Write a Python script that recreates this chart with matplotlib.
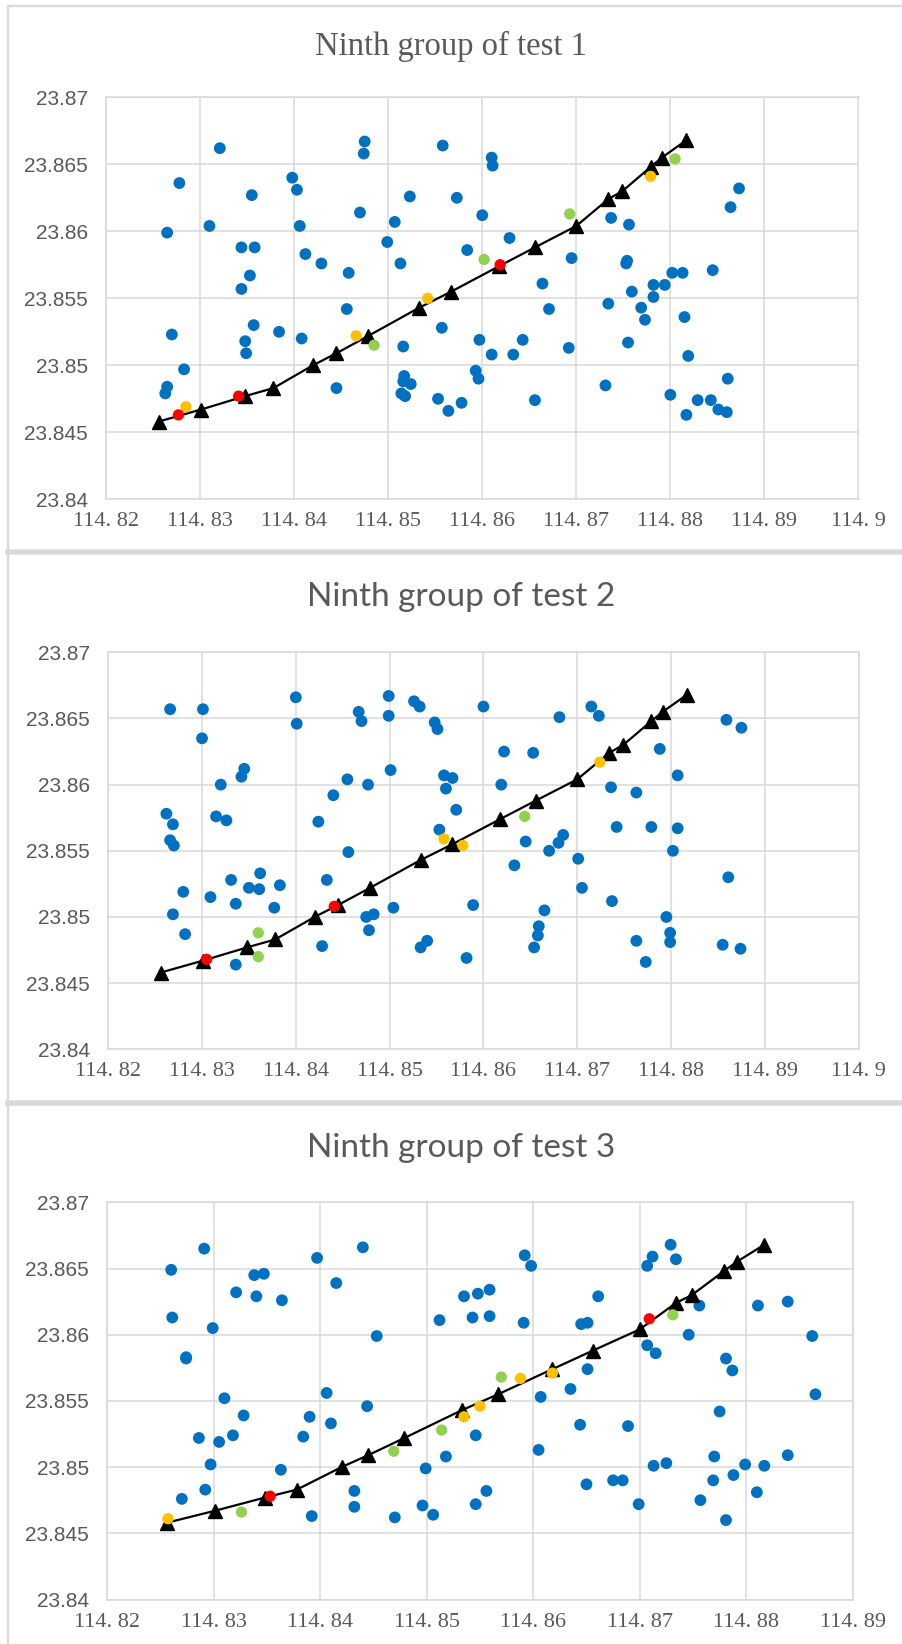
import matplotlib
matplotlib.use("Agg")
import matplotlib.pyplot as plt
from matplotlib.lines import Line2D

# ---------------- data ----------------
path_x = [114.8256, 114.8301, 114.8348, 114.8378, 114.8420, 114.8445, 114.8479, 114.8533, 114.8567,
          114.8618, 114.8656, 114.8700, 114.8734, 114.8749, 114.8779, 114.8791, 114.8817]
path_y = [23.8458, 23.8467, 23.8477, 23.8483, 23.8500, 23.8509, 23.8522, 23.8543, 23.8555,
          23.8574, 23.8588, 23.8604, 23.8624, 23.8630, 23.8648, 23.8655, 23.8668]

# test 1
blue_x1 = [114.8321, 114.8475, 114.8474, 114.8558, 114.8610, 114.8611, 114.8278, 114.8355, 114.8398, 114.8403,
           114.8470, 114.8523, 114.8573, 114.8600, 114.8265, 114.8310, 114.8406, 114.8507, 114.8629, 114.8499,
           114.8584, 114.8344, 114.8358, 114.8412, 114.8429, 114.8458, 114.8513, 114.8353, 114.8344, 114.8456,
           114.8557, 114.8357, 114.8270, 114.8348, 114.8349, 114.8384, 114.8408, 114.8516, 114.8597, 114.8610,
           114.8633, 114.8283, 114.8265, 114.8263, 114.8445, 114.8517, 114.8516, 114.8524, 114.8514, 114.8518,
           114.8593, 114.8596, 114.8553, 114.8564, 114.8578, 114.8873, 114.8864, 114.8737, 114.8756, 114.8695,
           114.8754, 114.8753, 114.8664, 114.8802, 114.8813, 114.8845, 114.8782, 114.8794, 114.8759, 114.8782,
           114.8671, 114.8734, 114.8769, 114.8773, 114.8815, 114.8643, 114.8692, 114.8755, 114.8819, 114.8861,
           114.8731, 114.8656, 114.8800, 114.8829, 114.8843, 114.8817, 114.8851, 114.8860]
blue_y1 = [23.8662, 23.8667, 23.8658, 23.8664, 23.8655, 23.8649, 23.8636, 23.8627, 23.8640, 23.8631,
           23.8614, 23.8626, 23.8625, 23.8612, 23.8599, 23.8604, 23.8604, 23.8607, 23.8595, 23.8592,
           23.8586, 23.8588, 23.8588, 23.8583, 23.8576, 23.8569, 23.8576, 23.8567, 23.8557, 23.8542,
           23.8528, 23.8530, 23.8523, 23.8518, 23.8509, 23.8525, 23.8520, 23.8514, 23.8519, 23.8508,
           23.8508, 23.8497, 23.8484, 23.8479, 23.8483, 23.8492, 23.8488, 23.8486, 23.8479, 23.8477,
           23.8496, 23.8490, 23.8475, 23.8466, 23.8472, 23.8632, 23.8618, 23.8610, 23.8605, 23.8580,
           23.8578, 23.8576, 23.8561, 23.8569, 23.8569, 23.8571, 23.8560, 23.8560, 23.8555, 23.8551,
           23.8542, 23.8546, 23.8543, 23.8534, 23.8536, 23.8519, 23.8513, 23.8517, 23.8507, 23.8490,
           23.8485, 23.8474, 23.8478, 23.8474, 23.8474, 23.8463, 23.8467, 23.8465]
orange_x1 = [114.8285, 114.8466, 114.8542, 114.8779]
orange_y1 = [23.8469, 23.8522, 23.8550, 23.8641]
green_x1 = [114.8485, 114.8602, 114.8693, 114.8805]
green_y1 = [23.8515, 23.8579, 23.8613, 23.8654]
red_x1 = [114.8277, 114.8341, 114.8619]
red_y1 = [23.8463, 23.8477, 23.8575]

# test 2
blue_x2 = [114.8266, 114.8301, 114.8300, 114.8400, 114.8401, 114.8467, 114.8470, 114.8499, 114.8499, 114.8526,
           114.8532, 114.8548, 114.8551, 114.8600, 114.8622, 114.8345, 114.8342, 114.8320, 114.8455, 114.8477,
           114.8501, 114.8440, 114.8558, 114.8567, 114.8560, 114.8619, 114.8571, 114.8262, 114.8269, 114.8315,
           114.8326, 114.8424, 114.8553, 114.8266, 114.8270, 114.8456, 114.8633, 114.8433, 114.8331, 114.8280,
           114.8309, 114.8336, 114.8350, 114.8361, 114.8362, 114.8383, 114.8377, 114.8269, 114.8282, 114.8336,
           114.8504, 114.8589, 114.8475, 114.8483, 114.8478, 114.8428, 114.8533, 114.8540, 114.8582, 114.8681,
           114.8715, 114.8723, 114.8653, 114.8788, 114.8807, 114.8859, 114.8875, 114.8736, 114.8763, 114.8742,
           114.8779, 114.8807, 114.8645, 114.8685, 114.8680, 114.8670, 114.8701, 114.8802, 114.8861, 114.8705,
           114.8737, 114.8665, 114.8659, 114.8658, 114.8654, 114.8795, 114.8799, 114.8799, 114.8763, 114.8773,
           114.8855, 114.8874]
blue_y2 = [23.8657, 23.8657, 23.8635, 23.8666, 23.8646, 23.8655, 23.8648, 23.8667, 23.8652, 23.8663,
           23.8659, 23.8647, 23.8642, 23.8659, 23.8625, 23.8612, 23.8606, 23.8600, 23.8604, 23.8600,
           23.8611, 23.8592, 23.8607, 23.8605, 23.8597, 23.8600, 23.8581, 23.8578, 23.8570, 23.8576,
           23.8573, 23.8572, 23.8566, 23.8558, 23.8554, 23.8549, 23.8539, 23.8528, 23.8528, 23.8519,
           23.8515, 23.8510, 23.8522, 23.8521, 23.8533, 23.8524, 23.8507, 23.8502, 23.8487, 23.8464,
           23.8507, 23.8509, 23.8500, 23.8502, 23.8490, 23.8478, 23.8477, 23.8482, 23.8469, 23.8651,
           23.8659, 23.8652, 23.8624, 23.8627, 23.8607, 23.8649, 23.8643, 23.8598, 23.8594, 23.8568,
           23.8568, 23.8567, 23.8557, 23.8562, 23.8556, 23.8550, 23.8544, 23.8550, 23.8530, 23.8522,
           23.8512, 23.8505, 23.8493, 23.8486, 23.8477, 23.8500, 23.8488, 23.8481, 23.8482, 23.8466,
           23.8479, 23.8476]
orange_x2 = [114.8558, 114.8578, 114.8724]
orange_y2 = [23.8559, 23.8554, 23.8617]
green_x2 = [114.8360, 114.8360, 114.8644]
green_y2 = [23.8488, 23.8470, 23.8576]
red_x2 = [114.8305, 114.8441]
red_y2 = [23.8468, 23.8508]

# test 3
blue_x3 = [114.8291, 114.8260, 114.8397, 114.8440, 114.8338, 114.8347, 114.8321, 114.8340, 114.8364, 114.8415,
           114.8261, 114.8299, 114.8274, 114.8274, 114.8453, 114.8512, 114.8535, 114.8548, 114.8559, 114.8543,
           114.8559, 114.8310, 114.8406, 114.8328, 114.8444, 114.8390, 114.8410, 114.8286, 114.8305, 114.8318,
           114.8384, 114.8297, 114.8292, 114.8270, 114.8363, 114.8392, 114.8432, 114.8432, 114.8470, 114.8496,
           114.8506, 114.8499, 114.8518, 114.8546, 114.8546, 114.8556, 114.8592, 114.8598, 114.8591, 114.8661,
           114.8645, 114.8651, 114.8707, 114.8712, 114.8729, 114.8734, 114.8756, 114.8811, 114.8839, 114.8746,
           114.8862, 114.8707, 114.8715, 114.8781, 114.8787, 114.8651, 114.8635, 114.8607, 114.8865, 114.8775,
           114.8644, 114.8689, 114.8605, 114.8770, 114.8799, 114.8817, 114.8839, 114.8713, 114.8725, 114.8650,
           114.8675, 114.8684, 114.8769, 114.8788, 114.8699, 114.8757, 114.8810, 114.8781]
blue_y3 = [23.8665, 23.8649, 23.8658, 23.8666, 23.8645, 23.8646, 23.8632, 23.8629, 23.8626, 23.8639,
           23.8613, 23.8605, 23.8583, 23.8582, 23.8599, 23.8611, 23.8629, 23.8631, 23.8634, 23.8613,
           23.8614, 23.8552, 23.8556, 23.8539, 23.8546, 23.8538, 23.8533, 23.8522, 23.8519, 23.8524,
           23.8523, 23.8502, 23.8483, 23.8476, 23.8498, 23.8463, 23.8482, 23.8470, 23.8462, 23.8471,
           23.8464, 23.8499, 23.8508, 23.8524, 23.8472, 23.8482, 23.8660, 23.8652, 23.8609, 23.8629,
           23.8608, 23.8609, 23.8652, 23.8659, 23.8668, 23.8657, 23.8622, 23.8622, 23.8625, 23.8600,
           23.8599, 23.8592, 23.8586, 23.8582, 23.8573, 23.8574, 23.8559, 23.8553, 23.8555, 23.8542,
           23.8532, 23.8531, 23.8513, 23.8508, 23.8502, 23.8501, 23.8509, 23.8501, 23.8503, 23.8487,
           23.8490, 23.8490, 23.8490, 23.8494, 23.8472, 23.8475, 23.8481, 23.8460]
orange_x3 = [114.8257, 114.8535, 114.8550, 114.8588, 114.8618]
orange_y3 = [23.8461, 23.8538, 23.8546, 23.8567, 23.8571]
green_x3 = [114.8326, 114.8469, 114.8514, 114.8570, 114.8731]
green_y3 = [23.8466, 23.8512, 23.8528, 23.8568, 23.8615]
red_x3 = [114.8353, 114.8709]
red_y3 = [23.8478, 23.8612]

titles = ["Ninth group of test 1", "Ninth group of test 2", "Ninth group of test 3"]
y_ticks = [23.84, 23.845, 23.85, 23.855, 23.86, 23.865, 23.87]
y_tick_labels = ["23.84", "23.845", "23.85", "23.855", "23.86", "23.865", "23.87"]
x_ticks_a = [114.82, 114.83, 114.84, 114.85, 114.86, 114.87, 114.88, 114.89, 114.90]
x_tick_labels_a = ["114. 82", "114. 83", "114. 84", "114. 85", "114. 86", "114. 87", "114. 88", "114. 89", "114. 9"]
x_ticks_b = [114.82, 114.83, 114.84, 114.85, 114.86, 114.87, 114.88, 114.89]
x_tick_labels_b = ["114. 82", "114. 83", "114. 84", "114. 85", "114. 86", "114. 87", "114. 88", "114. 89"]

# ---------------- figure ----------------
W, H = 903, 1644
fig = plt.figure(figsize=(W / 100, H / 100), dpi=100)
fig.patch.set_facecolor("white")

GRID = "#D9D9D9"
TXT = "#595959"
BLUE = "#0070C0"
ORANGE = "#FFC000"
GREEN = "#92D050"
RED = "#FF0000"


def px_axes(left, right, top, bottom):
    return fig.add_axes([left / W, 1 - bottom / H, (right - left) / W, (bottom - top) / H])


panels = [
    dict(box=(106.0, 858.5, 97.3, 499.3), xt=x_ticks_a, xl=x_tick_labels_a,
         bx=blue_x1, by=blue_y1, ox=orange_x1, oy=orange_y1, gx=green_x1, gy=green_y1, rx=red_x1, ry=red_y1,
         title=titles[0], tpos=(451, 46), tfont=dict(family="Liberation Serif", size=23.5)),
    dict(box=(108.2, 858.7, 652.3, 1049.3), xt=x_ticks_a, xl=x_tick_labels_a,
         bx=blue_x2, by=blue_y2, ox=orange_x2, oy=orange_y2, gx=green_x2, gy=green_y2, rx=red_x2, ry=red_y2,
         title=titles[1], tpos=(461.5, 597.5), tfont=dict(family="Lato", size=24, weight="normal")),
    dict(box=(107.3, 852.7, 1202.3, 1599.5), xt=x_ticks_b, xl=x_tick_labels_b,
         bx=blue_x3, by=blue_y3, ox=orange_x3, oy=orange_y3, gx=green_x3, gy=green_y3, rx=red_x3, ry=red_y3,
         title=titles[2], tpos=(461.5, 1148), tfont=dict(family="Lato", size=24, weight="normal")),
]

for p in panels:
    ax = px_axes(*p["box"])
    ax.set_xlim(p["xt"][0], p["xt"][-1])
    ax.set_ylim(y_ticks[0], y_ticks[-1])
    ax.set_xticks(p["xt"])
    ax.set_xticklabels(p["xl"], family="Liberation Serif", fontsize=16, color=TXT)
    ax.set_yticks(y_ticks)
    ax.set_yticklabels(y_tick_labels, family="Liberation Sans", fontsize=15, color=TXT)
    ax.tick_params(axis="both", length=0)
    ax.tick_params(axis="x", pad=9.5)
    ax.tick_params(axis="y", pad=13)
    ax.grid(True, color=GRID, linewidth=1.1)
    ax.set_axisbelow(True)
    for s in ax.spines.values():
        s.set_color(GRID)
        s.set_linewidth(1.1)
    ax.scatter(p["bx"], p["by"], s=72, color=BLUE, edgecolors="none", zorder=3)
    ax.plot(path_x, path_y, color="black", linewidth=1.6, marker="^", markersize=9.5, zorder=4,
            clip_on=False)
    ax.scatter(p["ox"], p["oy"], s=66, color=ORANGE, edgecolors="none", zorder=5)
    ax.scatter(p["gx"], p["gy"], s=66, color=GREEN, edgecolors="none", zorder=5)
    ax.scatter(p["rx"], p["ry"], s=66, color=RED, edgecolors="none", zorder=6)
    tx, ty = p["tpos"]
    fig.text(tx / W, 1 - ty / H, p["title"], ha="center", va="center", color=TXT, **p["tfont"])

# chart-area borders
def fline(x0, y0, x1, y1, lw):
    fig.add_artist(Line2D([x0 / W, x1 / W], [1 - y0 / H, 1 - y1 / H], color=GRID, linewidth=lw,
                          transform=fig.transFigure))

fline(8, 6, 903, 6, 1.6)
fline(8, 6, 8, 1644, 1.6)
fline(8, 552, 903, 552, 4.0)
fline(8, 1102.5, 903, 1102.5, 4.0)

fig.savefig("out.png", dpi=100, facecolor="white")
